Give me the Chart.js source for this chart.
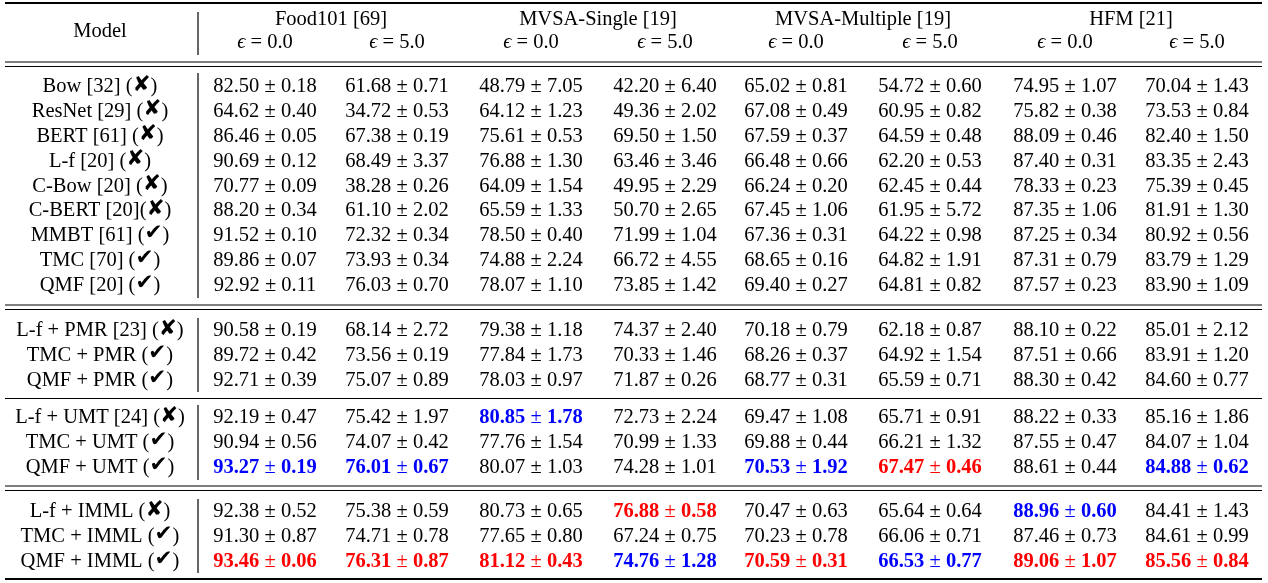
<!DOCTYPE html>
<html>
<head>
<meta charset="utf-8">
<script src="https://cdn.jsdelivr.net/npm/chart.js@4/dist/chart.umd.min.js"></script>
<style>
  html, body { margin: 0; padding: 0; background: #fff; }
  #wrap { width: 1268px; height: 583px; }
</style>
</head>
<body>
<div id="wrap"><canvas id="table" width="1268" height="583"></canvas></div>
<script>
// Tabellen-Daten
const datasetNames = ["Food101 [69]", "MVSA-Single [19]", "MVSA-Multiple [19]", "HFM [21]"];
const epsValues = ["0.0", "5.0"];

const models = [
    "Bow [32]", "ResNet [29]", "BERT [61]", "L-f [20]", "C-Bow [20]", "C-BERT [20]", "MMBT [61]", "TMC [70]", "QMF [20]",
    "L-f + PMR [23]", "TMC + PMR", "QMF + PMR",
    "L-f + UMT [24]", "TMC + UMT", "QMF + UMT",
    "L-f + IMML", "TMC + IMML", "QMF + IMML"
];
// x = nicht robust, v = robust
const robust = ["x", "x", "x", "x", "x", "x", "v", "v", "v", "x", "v", "v", "x", "v", "v", "x", "v", "v"];
const blockSizes = [9, 3, 3, 3];

const food101Eps0 = [
    "82.50 ± 0.18", "64.62 ± 0.40", "86.46 ± 0.05", "90.69 ± 0.12", "70.77 ± 0.09", "88.20 ± 0.34", "91.52 ± 0.10", "89.86 ± 0.07", "92.92 ± 0.11",
    "90.58 ± 0.19", "89.72 ± 0.42", "92.71 ± 0.39",
    "92.19 ± 0.47", "90.94 ± 0.56", "93.27 ± 0.19",
    "92.38 ± 0.52", "91.30 ± 0.87", "93.46 ± 0.06"
];
const food101Eps5 = [
    "61.68 ± 0.71", "34.72 ± 0.53", "67.38 ± 0.19", "68.49 ± 3.37", "38.28 ± 0.26", "61.10 ± 2.02", "72.32 ± 0.34", "73.93 ± 0.34", "76.03 ± 0.70",
    "68.14 ± 2.72", "73.56 ± 0.19", "75.07 ± 0.89",
    "75.42 ± 1.97", "74.07 ± 0.42", "76.01 ± 0.67",
    "75.38 ± 0.59", "74.71 ± 0.78", "76.31 ± 0.87"
];
const mvsaSingleEps0 = [
    "48.79 ± 7.05", "64.12 ± 1.23", "75.61 ± 0.53", "76.88 ± 1.30", "64.09 ± 1.54", "65.59 ± 1.33", "78.50 ± 0.40", "74.88 ± 2.24", "78.07 ± 1.10",
    "79.38 ± 1.18", "77.84 ± 1.73", "78.03 ± 0.97",
    "80.85 ± 1.78", "77.76 ± 1.54", "80.07 ± 1.03",
    "80.73 ± 0.65", "77.65 ± 0.80", "81.12 ± 0.43"
];
const mvsaSingleEps5 = [
    "42.20 ± 6.40", "49.36 ± 2.02", "69.50 ± 1.50", "63.46 ± 3.46", "49.95 ± 2.29", "50.70 ± 2.65", "71.99 ± 1.04", "66.72 ± 4.55", "73.85 ± 1.42",
    "74.37 ± 2.40", "70.33 ± 1.46", "71.87 ± 0.26",
    "72.73 ± 2.24", "70.99 ± 1.33", "74.28 ± 1.01",
    "76.88 ± 0.58", "67.24 ± 0.75", "74.76 ± 1.28"
];
const mvsaMultipleEps0 = [
    "65.02 ± 0.81", "67.08 ± 0.49", "67.59 ± 0.37", "66.48 ± 0.66", "66.24 ± 0.20", "67.45 ± 1.06", "67.36 ± 0.31", "68.65 ± 0.16", "69.40 ± 0.27",
    "70.18 ± 0.79", "68.26 ± 0.37", "68.77 ± 0.31",
    "69.47 ± 1.08", "69.88 ± 0.44", "70.53 ± 1.92",
    "70.47 ± 0.63", "70.23 ± 0.78", "70.59 ± 0.31"
];
const mvsaMultipleEps5 = [
    "54.72 ± 0.60", "60.95 ± 0.82", "64.59 ± 0.48", "62.20 ± 0.53", "62.45 ± 0.44", "61.95 ± 5.72", "64.22 ± 0.98", "64.82 ± 1.91", "64.81 ± 0.82",
    "62.18 ± 0.87", "64.92 ± 1.54", "65.59 ± 0.71",
    "65.71 ± 0.91", "66.21 ± 1.32", "67.47 ± 0.46",
    "65.64 ± 0.64", "66.06 ± 0.71", "66.53 ± 0.77"
];
const hfmEps0 = [
    "74.95 ± 1.07", "75.82 ± 0.38", "88.09 ± 0.46", "87.40 ± 0.31", "78.33 ± 0.23", "87.35 ± 1.06", "87.25 ± 0.34", "87.31 ± 0.79", "87.57 ± 0.23",
    "88.10 ± 0.22", "87.51 ± 0.66", "88.30 ± 0.42",
    "88.22 ± 0.33", "87.55 ± 0.47", "88.61 ± 0.44",
    "88.96 ± 0.60", "87.46 ± 0.73", "89.06 ± 1.07"
];
const hfmEps5 = [
    "70.04 ± 1.43", "73.53 ± 0.84", "82.40 ± 1.50", "83.35 ± 2.43", "75.39 ± 0.45", "81.91 ± 1.30", "80.92 ± 0.56", "83.79 ± 1.29", "83.90 ± 1.09",
    "85.01 ± 2.12", "83.91 ± 1.20", "84.60 ± 0.77",
    "85.16 ± 1.86", "84.07 ± 1.04", "84.88 ± 0.62",
    "84.41 ± 1.43", "84.61 ± 0.99", "85.56 ± 0.84"
];

// Bestes Ergebnis (rot) und zweitbestes (blau) je Spalte: [Zeile, Spalte]
const bestCells = [[14, 5], [17, 0], [17, 1], [17, 2], [17, 4], [17, 6], [17, 7], [15, 3]];
const secondCells = [[12, 2], [14, 0], [14, 1], [14, 4], [14, 7], [15, 6], [17, 3], [17, 5]];

const columns = [food101Eps0, food101Eps5, mvsaSingleEps0, mvsaSingleEps5, mvsaMultipleEps0, mvsaMultipleEps5, hfmEps0, hfmEps5];

// Layout (in Einheiten der Achsen, 1 Einheit = 1 px)
const modelX = 100;
const colX = [265, 397, 531, 665, 796, 930, 1065, 1197];
const headY = [20, 43];
const blockTop = [87, 331, 418, 512];
const rowStep = 24.8;
const ruleLeft = 5, ruleRight = 1262, sepX = 198;

const FONT = '"Liberation Serif", "Times New Roman", serif';
const SIZE = 20.5;

function rowY(r) {
    let b = 0, i = r;
    while (i >= blockSizes[b]) { i -= blockSizes[b]; b++; }
    return blockTop[b] + i * rowStep;
}

function cellColor(r, c) {
    if (bestCells.some(p => p[0] === r && p[1] === c)) return "#ff0000";
    if (secondCells.some(p => p[0] === r && p[1] === c)) return "#0000ff";
    return null;
}

// Punkte für die Zellen
const chartDatasets = columns.map((col, c) => ({
    label: "col" + c,
    data: col.map((v, r) => ({ x: colX[c], y: rowY(r) })),
    pointRadius: 0
}));
chartDatasets.push({
    label: "model",
    data: models.map((m, r) => ({ x: modelX, y: rowY(r) })),
    pointRadius: 0
});

// Text aus mehreren Stücken zentriert zeichnen: [text, font, color, dy]
function drawPieces(ctx, pieces, cx, cy) {
    let total = 0;
    pieces.forEach(p => { ctx.font = p[1]; p.w = ctx.measureText(p[0]).width; total += p.w; });
    let x = cx - total / 2;
    pieces.forEach(p => {
        ctx.font = p[1];
        ctx.fillStyle = p[2];
        ctx.fillText(p[0], x, cy + (p[3] || 0));
        x += p.w;
    });
}

const tablePlugin = {
    id: "tablePlugin",
    afterDatasetsDraw(chart) {
        const ctx = chart.ctx;
        const xs = chart.scales.x, ys = chart.scales.y;
        const fN = SIZE + "px " + FONT;
        const fI = "italic " + SIZE + "px " + FONT;
        const fB = "bold " + SIZE + "px " + FONT;
        const fM = "bold " + (SIZE + 1) + "px 'DejaVu Sans'";
        ctx.save();
        ctx.textBaseline = "middle";
        ctx.textAlign = "left";
        ctx.strokeStyle = "#000";

        // Linien
        function hline(y, w) {
            ctx.lineWidth = w;
            ctx.beginPath();
            ctx.moveTo(xs.getPixelForValue(ruleLeft), ys.getPixelForValue(y));
            ctx.lineTo(xs.getPixelForValue(ruleRight), ys.getPixelForValue(y));
            ctx.stroke();
        }
        function vline(y1, y2) {
            ctx.lineWidth = 1.2;
            ctx.beginPath();
            ctx.moveTo(xs.getPixelForValue(sepX), ys.getPixelForValue(y1));
            ctx.lineTo(xs.getPixelForValue(sepX), ys.getPixelForValue(y2));
            ctx.stroke();
        }
        hline(3, 2);
        hline(62, 1.2); hline(66.5, 1.2);
        hline(305, 1.2); hline(309.5, 1.2);
        hline(398.5, 1.2);
        hline(486, 1.2); hline(490.5, 1.2);
        hline(579, 2);
        vline(12, 55); vline(73, 298); vline(318, 392); vline(405, 480); vline(499, 573);

        // Kopfzeile
        drawPieces(ctx, [["Model", fN, "#000"]], xs.getPixelForValue(modelX), ys.getPixelForValue((headY[0] + headY[1]) / 2));
        datasetNames.forEach((name, d) => {
            const cx = (colX[2 * d] + colX[2 * d + 1]) / 2;
            drawPieces(ctx, [[name, fN, "#000"]], xs.getPixelForValue(cx), ys.getPixelForValue(headY[0]));
            epsValues.forEach((e, k) => {
                drawPieces(ctx, [["\u03f5", fI, "#000"], ["\u2005=\u2005" + e, fN, "#000"]],
                    xs.getPixelForValue(colX[2 * d + k]), ys.getPixelForValue(headY[1]));
            });
        });

        // Zellen
        chart.data.datasets.forEach((ds, di) => {
            const meta = chart.getDatasetMeta(di);
            meta.data.forEach((pt, r) => {
                if (ds.label === "model") {
                    const name = models[r];
                    const gap = name === "C-BERT [20]" ? "" : " ";
                    const markCh = robust[r] === "v" ? "\u2714" : "\u2718";
                    drawPieces(ctx, [[name + gap + "(", fN, "#000"], [markCh, fM, "#000", -2], [")", fN, "#000"]], pt.x, pt.y);
                    return;
                }
                const parts = columns[di][r].split(" ± ");
                const col = cellColor(r, di);
                const fV = col ? fB : fN;
                const color = col || "#000";
                drawPieces(ctx, [[parts[0], fV, color], [" ± ", fN, color], [parts[1], fV, color]], pt.x, pt.y);
            });
        });
        ctx.restore();
    }
};

function renderTable() {
    new Chart(document.getElementById("table"), {
        type: "scatter",
        data: { datasets: chartDatasets },
        options: {
            responsive: false,
            animation: false,
            layout: { padding: 0 },
            plugins: { legend: { display: false }, tooltip: { enabled: false } },
            scales: {
                x: { type: "linear", min: 0, max: 1268, display: false },
                y: { type: "linear", min: 0, max: 583, reverse: true, display: false }
            }
        },
        plugins: [tablePlugin]
    });
}

document.addEventListener("DOMContentLoaded", renderTable);
</script>
</body>
</html>
